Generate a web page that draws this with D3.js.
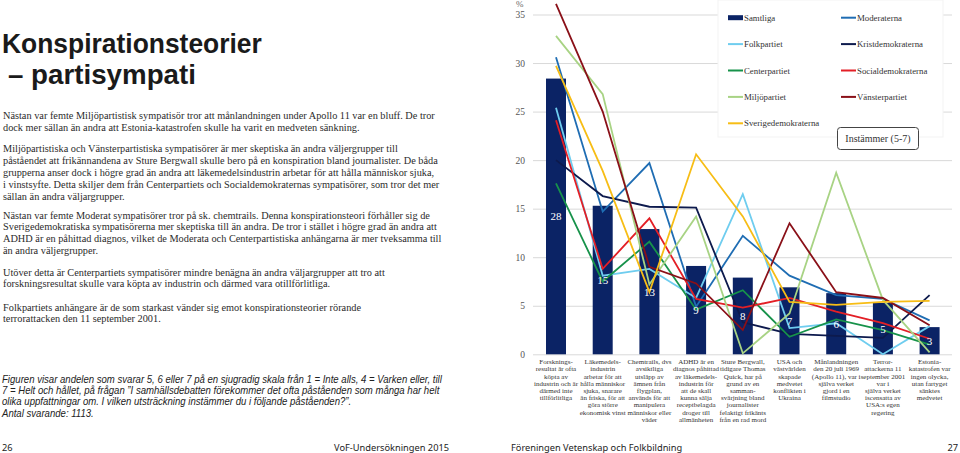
<!DOCTYPE html>
<html><head><meta charset="utf-8">
<script src="https://cdn.jsdelivr.net/npm/d3@7"></script>
<style>body{margin:0;background:#fff} svg{display:block}</style>
</head><body>
<svg id="c" width="960" height="453"></svg>
<script>
// ---------- DATA ----------
const categories = [
  ["Forsknings-","resultat är ofta","köpta av","industrin och är","därmed inte","tillförlitliga"],
  ["Läkemedels-","industrin","arbetar för att","hålla människor","sjuka, snarare","än friska, för att","göra större","ekonomisk vinst"],
  ["Chemtrails, dvs","avsiktliga","utsläpp av","ämnen från","flygplan,","används för att","manipulera","människor eller","väder"],
  ["ADHD är en","diagnos påhittad","av läkemedels-","industrin för","att de skall","kunna sälja","receptbelagda","droger till","allmänheten"],
  ["Sture Bergwall,","tidigare Thomas","Quick, har på","grund av en","samman-","svärjning bland","journalister","felaktigt frikänts","från en rad mord"],
  ["USA och","västvärlden","skapade","medvetet","konflikten i","Ukraina"],
  ["Månlandningen","den 20 juli 1969","(Apollo 11), var i","själva verket","gjord i en","filmstudio"],
  ["Terror-","attackerna 11","september 2001","var i","själva verket","iscensatta av","USA:s egen","regering"],
  ["Estonia-","katastrofen var","ingen olycka,","utan fartyget","sänktes","medvetet"]
];
const samtliga          = [28.4, 15.3, 12.9, 9.1, 7.9, 6.9, 6.3, 5.3, 2.8];
const moderaterna       = [30.6, 14.7, 19.7, 4.9, 12.2, 8.1, 6.1, 5.7, 3.5];
const folkpartiet       = [25.4, 8.1, 8.8, 5.8, 16.5, 2.7, 3.2, 0.0, 2.9];
const kristdemokraterna = [20.0, 16.3, 15.2, 15.1, 3.3, 2.1, 1.9, 1.7, 6.1];
const centerpartiet     = [17.6, 7.5, 11.6, 4.6, 6.6, 1.8, 3.6, 2.5, 1.0];
const socialdemokraterna= [24.1, 8.8, 14.0, 5.7, 4.8, 5.8, 4.4, 3.2, 1.6];
const miljopartiet      = [32.8, 26.8, 7.2, 14.2, 0.1, 4.2, 18.7, 5.6, 0.2];
const vansterpartiet    = [36.1, 25.0, 9.0, 7.3, 2.5, 13.5, 6.4, 5.8, 3.0];
const sverigedemokraterna=[29.7, 18.9, 6.4, 20.6, 14.2, 5.4, 5.1, 5.4, 5.5];
const yTicks = [0, 5, 10, 15, 20, 25, 30, 35];

const series = [
  {name:"Moderaterna", values:moderaterna, color:"#1f6db3"},
  {name:"Folkpartiet", values:folkpartiet, color:"#6fcdef"},
  {name:"Kristdemokraterna", values:kristdemokraterna, color:"#0d1a4d"},
  {name:"Centerpartiet", values:centerpartiet, color:"#17924a"},
  {name:"Socialdemokraterna", values:socialdemokraterna, color:"#e31f26"},
  {name:"Miljöpartiet", values:miljopartiet, color:"#a8d384"},
  {name:"Vänsterpartiet", values:vansterpartiet, color:"#8a1018"},
  {name:"Sverigedemokraterna", values:sverigedemokraterna, color:"#f7bd15"}
];
const legendItems = [
  {name:"Samtliga", color:"#0b2365", bar:true},
  {name:"Moderaterna", color:"#1f6db3"},
  {name:"Folkpartiet", color:"#6fcdef"},
  {name:"Kristdemokraterna", color:"#0d1a4d"},
  {name:"Centerpartiet", color:"#17924a"},
  {name:"Socialdemokraterna", color:"#e31f26"},
  {name:"Miljöpartiet", color:"#a8d384"},
  {name:"Vänsterpartiet", color:"#8a1018"},
  {name:"Sverigedemokraterna", color:"#f7bd15"}
];

const titleLines = ["Konspirationsteorier", "– partisympati"];
const paragraphs = [
  ["Nästan var femte Miljöpartistisk sympatisör tror att månlandningen under Apollo 11 var en bluff. De tror",
   "dock mer sällan än andra att Estonia-katastrofen skulle ha varit en medveten sänkning."],
  ["Miljöpartistiska och Vänsterpartistiska sympatisörer är mer skeptiska än andra väljergrupper till",
   "påståendet att frikännandena av Sture Bergwall skulle bero på en konspiration bland journalister. De båda",
   "grupperna anser dock i högre grad än andra att läkemedelsindustrin arbetar för att hålla människor sjuka,",
   "i vinstsyfte. Detta skiljer dem från Centerpartiets och Socialdemokraternas sympatisörer, som tror det mer",
   "sällan än andra väljargrupper."],
  ["Nästan var femte Moderat sympatisörer tror på sk. chemtrails. Denna konspirationsteori förhåller sig de",
   "Sverigedemokratiska sympatisörerna mer skeptiska till än andra. De tror i stället i högre grad än andra att",
   "ADHD är en påhittad diagnos, vilket de Moderata och Centerpartistiska anhängarna är mer tveksamma till",
   "än andra väljergrupper."],
  ["Utöver detta är Centerpartiets sympatisörer mindre benägna än andra väljargrupper att tro att",
   "forskningsresultat skulle vara köpta av industrin och därmed vara otillförlitliga."],
  ["Folkpartiets anhängare är de som starkast vänder sig emot konspirationsteorier rörande",
   "terrorattacken den 11 september 2001."]
];
const footnote = [
  "Figuren visar andelen som svarar 5, 6 eller 7 på en sjugradig skala från 1 = Inte alls, 4 = Varken eller, till",
  "7 = Helt och hållet, på frågan ”I samhällsdebatten förekommer det ofta påståenden som många har helt",
  "olika uppfattningar om. I vilken utsträckning instämmer du i följande påståenden?”.",
  "Antal svarande: 1113."
];

// ---------- DRAW ----------
const svg = d3.select("#c");
const SERIF = "'Liberation Serif', 'DejaVu Serif', serif";
const SANS = "'Noto Sans', 'Open Sans', sans-serif";
const TSANS = "'Liberation Sans', Arial, sans-serif";

function fit(sel, target) {
  const w = sel.node().getComputedTextLength();
  const fs = parseFloat(sel.attr("font-size"));
  return fs * target / w;
}

// Title (each line condensed to the reference width)
const TFS = 27;
const titleTargets = [{x: 2, y: 53, w: 260}, {x: 8, y: 84, w: 188}];
titleLines.forEach((t, i) => {
  const pr = svg.append("text").attr("font-family", TSANS).attr("font-weight", 700)
    .attr("font-size", TFS).text(t);
  const k = titleTargets[i].w / pr.node().getComputedTextLength();
  pr.remove();
  svg.append("g").attr("transform", `translate(${titleTargets[i].x},0) scale(${k},1)`)
    .append("text").attr("x", 0).attr("y", titleTargets[i].y).attr("font-family", TSANS)
    .attr("font-weight", 700).attr("font-size", TFS).attr("fill", "#1a1a1a").text(t);
});

// Paragraphs
const pStarts = [119, 152, 218.5, 275.5, 310.5];
const pStep = 11.9;
const probe = svg.append("text").attr("font-family", SERIF).attr("font-size", 10).text(paragraphs[0][0]);
const bodyFs = fit(probe, 432);
probe.remove();
paragraphs.forEach((p, pi) => {
  p.forEach((line, li) => {
    svg.append("text").attr("x", 3).attr("y", pStarts[pi] + li * pStep)
      .attr("font-family", SERIF).attr("font-size", bodyFs).attr("fill", "#2b2b2b").text(line);
  });
});

// Footnote (condensed italic)
const NARROW = "'Liberation Sans Narrow', 'Liberation Sans', sans-serif";
const FOOTFS = 10.5;
const fprobe = svg.append("text").attr("font-family", NARROW).attr("font-style", "italic")
  .attr("font-size", FOOTFS).text(footnote[0]);
const fk = 440 / fprobe.node().getComputedTextLength();
fprobe.remove();
const fg = svg.append("g").attr("transform", `translate(2,0) scale(${fk},1)`);
footnote.forEach((line, i) => {
  fg.append("text").attr("x", 0).attr("y", 383 + i * 11.2).attr("font-family", NARROW)
    .attr("font-style", "italic").attr("font-size", FOOTFS).attr("fill", "#222").text(line);
});

// Footer
const f2 = svg.append("text").attr("font-family", SANS).attr("font-size", 12).attr("fill", "#222")
  .text("VoF-Undersökningen 2015");
const ffs = fit(f2, 115);
f2.attr("font-size", ffs).attr("x", 449).attr("y", 451).attr("text-anchor", "end");
svg.append("text").attr("x", 2).attr("y", 451).attr("font-family", SANS).attr("font-size", ffs).attr("fill", "#222").text("26");
svg.append("text").attr("x", 511).attr("y", 451).attr("font-family", SANS).attr("font-size", ffs).attr("fill", "#222")
  .text("Föreningen Vetenskap och Folkbildning");
svg.append("text").attr("x", 958).attr("y", 451).attr("text-anchor", "end").attr("font-family", SANS)
  .attr("font-size", ffs).attr("fill", "#222").text("27");

// Chart scales
const x = d3.scaleBand().domain(d3.range(categories.length)).range([532.65, 952.95])
  .paddingInner(0.572).paddingOuter(0.286);
const y = d3.scaleLinear().domain([0, 35]).range([354.3, 14.5]);
const bw = x.bandwidth();

// Gridlines
const grid = svg.append("g").attr("transform", "translate(533,0)")
  .call(d3.axisLeft(y).tickValues(yTicks).tickSize(-(952 - 533)).tickFormat(""));
grid.select(".domain").remove();
grid.selectAll("line").attr("stroke", "#d9d9d9").attr("stroke-width", 1);

// Y axis labels
const yax = svg.append("g").attr("transform", "translate(525,0)")
  .call(d3.axisLeft(y).tickValues(yTicks).tickSize(0).tickPadding(0));
yax.select(".domain").remove();
yax.selectAll("text").attr("font-family", SERIF).attr("font-size", 9.5).attr("fill", "#555");
svg.append("text").attr("x", 516).attr("y", 7).attr("font-family", SERIF).attr("font-size", 9)
  .attr("fill", "#666").text("%");

// Legend box (white)
svg.append("rect").attr("x", 718).attr("y", 0).attr("width", 225).attr("height", 137)
  .attr("fill", "#fff").attr("stroke", "#f3f3f3");

// Bars
svg.append("g").selectAll("rect").data(samtliga).join("rect")
  .attr("x", (d, i) => x(i)).attr("y", d => y(d)).attr("width", bw)
  .attr("height", d => y(0) - y(d)).attr("fill", "#0b2365");

// Lines
const line = d3.line().x((d, i) => x(i) + bw / 2).y(d => y(d));
svg.append("g").selectAll("path").data(series).join("path")
  .attr("d", s => line(s.values)).attr("fill", "none")
  .attr("stroke", s => s.color).attr("stroke-width", 1.8).attr("stroke-linejoin", "miter");

// Bar labels
svg.append("g").selectAll("text").data(samtliga).join("text")
  .attr("x", (d, i) => x(i) + bw / 2).attr("y", d => (y(d) + y(0)) / 2 + 4)
  .attr("text-anchor", "middle").attr("font-family", SERIF).attr("font-size", 11)
  .attr("fill", "#fff").text(d => d3.format(".0f")(d));

// X labels
const xl = svg.append("g").selectAll("text").data(categories).join("text")
  .attr("text-anchor", "middle").attr("font-family", SERIF).attr("font-size", 7)
  .attr("fill", "#333");
xl.each(function(lines, i) {
  d3.select(this).selectAll("tspan").data(lines).join("tspan")
    .attr("x", x(i) + bw / 2).attr("y", (d, j) => 364.2 + j * 7.2).text(d => d);
});

// Legend
const lg = svg.append("g");
legendItems.forEach((it, i) => {
  const col = i % 2, row = Math.floor(i / 2);
  const sx = col === 0 ? 728 : 841;
  const cy = 17.7 + row * 26.4;
  if (it.bar) {
    lg.append("rect").attr("x", sx).attr("y", cy - 2.5).attr("width", 15).attr("height", 5).attr("fill", it.color);
  } else {
    lg.append("line").attr("x1", sx).attr("x2", sx + 15).attr("y1", cy).attr("y2", cy)
      .attr("stroke", it.color).attr("stroke-width", 2);
  }
  lg.append("text").attr("x", sx + 16).attr("y", cy + 3).attr("font-family", SERIF)
    .attr("font-size", 8.8).attr("fill", "#333").text(it.name);
});

// Instämmer box
svg.append("rect").attr("x", 837.5).attr("y", 127.5).attr("width", 81).attr("height", 22)
  .attr("rx", 3).attr("fill", "#fff").attr("stroke", "#444").attr("stroke-width", 1);
svg.append("text").attr("x", 878).attr("y", 142).attr("text-anchor", "middle")
  .attr("font-family", SERIF).attr("font-size", 10).attr("fill", "#333").text("Instämmer (5-7)");
</script>
</body></html>
